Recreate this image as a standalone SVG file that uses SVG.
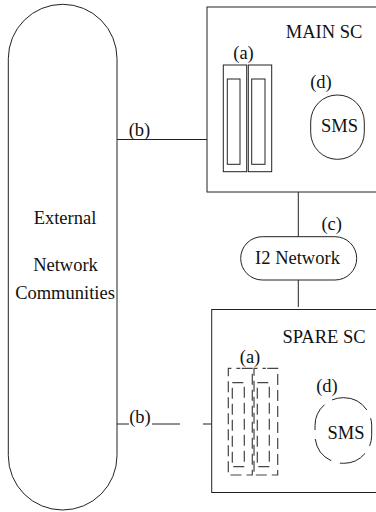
<svg xmlns="http://www.w3.org/2000/svg" width="376" height="512" viewBox="0 0 376 512">
<style>
.s{fill:none;stroke:#222;stroke-width:1}
.t{font-family:"Liberation Serif","Times New Roman",serif;font-size:18.5px;fill:#111}
.m{text-anchor:middle}
.d{fill:none;stroke:#444;stroke-width:1.2;stroke-dasharray:11 5}
</style>
<rect width="376" height="512" fill="#fff"/>
<g id="external">
<rect class="s" x="8.3" y="4.3" width="108.7" height="505.7" rx="54.3" ry="54.3"/>
<text class="t m" x="65" y="224">External</text>
<text class="t m" x="65.5" y="271">Network</text>
<text class="t m" x="65" y="299">Communities</text>
</g>
<g id="main-sc">
<rect class="s" x="207" y="7" width="180" height="185"/>
<text class="t m" x="324" y="38">MAIN SC</text>
<text class="t m" x="243.5" y="59">(a)</text>
<rect class="s" x="223.3" y="65" width="23.4" height="106.7"/>
<rect class="s" x="248.3" y="65" width="23.4" height="106.7"/>
<rect class="s" x="227.3" y="79" width="12.7" height="85.3"/>
<rect class="s" x="251.7" y="79" width="13.3" height="85.3"/>
<text class="t m" x="321" y="88">(d)</text>
<rect class="s" x="310.7" y="95" width="53.6" height="64.3" rx="26.5" ry="27"/>
<text class="t m" x="339.5" y="132">SMS</text>
</g>
<g id="i2-network">
<rect class="s" x="240.7" y="236.7" width="116" height="43.3" rx="21.6" ry="21.6"/>
<text class="t m" x="297.5" y="264">I2 Network</text>
</g>
<g id="spare-sc">
<rect class="s" x="211.7" y="309.5" width="180" height="183"/>
<text class="t m" x="324" y="343.3">SPARE SC</text>
<text class="t m" x="250" y="362.7">(a)</text>
<path class="d" d="M240.3 368.3H252.3V475H228.3V368.3Z" stroke-dashoffset="-1.5"/>
<path class="d" d="M265.8 368.3H277.7V475H254V368.3Z" stroke-dashoffset="-1.5"/>
<path class="d" d="M238.3 382.7H244.3V466.7H232.3V382.7Z" stroke-dashoffset="6"/>
<path class="d" d="M263.3 382.7H269.3V466.7H257.3V382.7Z" stroke-dashoffset="6"/>
<text class="t m" x="327" y="391.7">(d)</text>
<rect class="s" x="315" y="397.7" width="56.7" height="65.6" rx="28" ry="28" stroke-dasharray="28 9"/>
<text class="t m" x="346" y="439.3">SMS</text>
</g>
<g id="connectors">
<path class="s" d="M117 139.5H207"/>
<path class="s" d="M298.3 192V236.7M298.3 280V307"/>
<path class="s" d="M117 424H129M152 424H180M203 424H211.7"/>
<text class="t m" x="139.5" y="136">(b)</text>
<text class="t m" x="140" y="423">(b)</text>
<text class="t m" x="331.7" y="230">(c)</text>
</g>
</svg>
